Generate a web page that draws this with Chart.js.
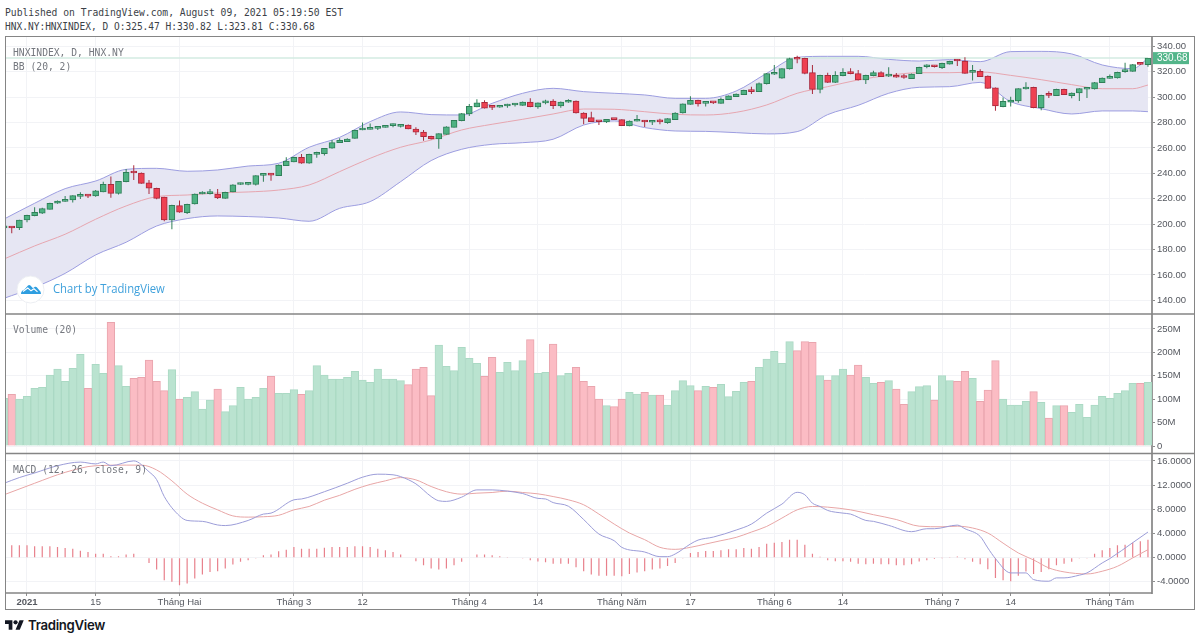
<!DOCTYPE html>
<html>
<head>
<meta charset="utf-8">
<title>HNXINDEX</title>
<script src="https://cdn.jsdelivr.net/npm/chart.js@4"></script>
<style>
  html, body { margin: 0; padding: 0; background: #fff; }
  body { position: relative; width: 1200px; height: 640px; overflow: hidden; }
  .abs { position: absolute; white-space: pre; }
  .mono { font: 10.3px/12px "DejaVu Sans Mono", monospace; transform-origin: 0 50%; transform: scaleX(.94); }
  .head { color: #3c3f47; }
  .pane { color: #75787f; }
  #frame { position: absolute; left: 5px; top: 36px; width: 1188px; height: 572px; border: 1px solid #858585; pointer-events: none; }
  #c { position: absolute; left: 5px; top: 36px; }
</style>
</head>
<body>
<canvas id="c" width="1189" height="573"></canvas>
<div id="frame"></div>

<div class="abs mono head" style="left:5px;top:6px">Published on TradingView.com, August 09, 2021 05:19:50 EST</div>
<div class="abs mono head" style="left:5px;top:20px;transform:scaleX(.925)">HNX.NY:HNXINDEX, D O:325.47 H:330.82 L:323.81 C:330.68</div>
<div class="abs mono pane" style="left:12.5px;top:46px">HNXINDEX, D, HNX.NY</div>
<div class="abs mono pane" style="left:12.5px;top:60px">BB (20, 2)</div>
<div class="abs mono pane" style="left:12.5px;top:323px">Volume (20)</div>
<div class="abs mono pane" style="left:12.5px;top:463px">MACD (12, 26, close, 9)</div>

<svg class="abs" style="left:16px;top:275px" width="29" height="29" viewBox="0 0 29 29">
  <circle cx="14.5" cy="14.5" r="13.5" fill="#fff" stroke="#eceef2"/>
  <path d="M5 19c0-2.500 1.500-3.800 3.200-4.300L12 10.500c.7-.8 1.700-.8 2.400 0l2.600 2.800 1.500-1.200c.8-.6 1.700-.5 2.300.2l2.700 3.200c.9.700 1.500 1.900 1.500 3.500z" fill="#2e9ee0"/>
  <path d="M7 16.500l4.800-3.500 3.200 2.800 3-2 3.500 3" fill="none" stroke="#fff" stroke-width="1.100"/>
</svg>
<div class="abs" style="left:53px;top:281px;font:12.4px/15px 'Open Sans',sans-serif;color:#3fa1dc;transform-origin:0 50%;transform:scaleX(.91)">Chart by TradingView</div>

<svg class="abs" style="left:5px;top:620px" width="19" height="10" viewBox="0 4 36 18">
  <path d="M14 22H7V11H0V4h14v18zM28 22h-8l7.500-18h8L28 22z" fill="#131722"/>
  <circle cx="20" cy="8" r="4" fill="#131722"/>
</svg>
<div class="abs" style="left:28px;top:616px;font:600 13.2px/18px Inter,sans-serif;color:#131722;letter-spacing:-.3px">TradingView</div>

<script>
// daily candles, one entry per trading session
const opens = [197,197.7,197.2,203.2,206.6,208.5,211.6,216.4,217.9,219,
  221.8,222.6,222.1,225.3,231.3,224.2,233.4,241,240.2,232.4,
  228.2,221.3,203.2,214.5,209,215.8,223.7,224,223.7,220.3,
  225.3,231.2,231.3,231.3,238.4,239.2,238.1,246,248.9,252.6,
  247.9,254.9,255.5,259.7,264.1,264.9,267.5,274.1,274.6,275.4,
  276.2,277.5,277,278,274.9,272.5,269.1,267,270.7,276.2,
  281.4,286.7,292.2,295.9,292.5,292,293,293.8,293.5,296.1,
  292.2,295.4,296.9,293,295.9,296.9,287.5,283.8,281.1,280.4,
  282.7,282.2,277.2,281,281.7,280.2,281,279.9,282.2,287.5,
  294.3,297.5,295.1,296,295.1,298,300.3,301.9,305.2,304.3,
  310.6,318,314.8,322.1,330.4,330.5,319.2,306.1,317.1,311.6,
  316.9,319.2,318.5,313.5,316.9,319.2,316.5,317.1,316,314.5,
  318.5,323.9,324.5,323.2,326,329,328.4,319.5,320.3,316.6,
  307.2,292.5,295.9,297,306.4,307.7,291.7,302,301.2,306.1,
  301.2,303.2,306.2,306.4,311.4,314.7,315,320,320.3,326.5,325.47];
const highs = [197.5,197.9,203.4,207.3,213.2,212.8,216.8,218.5,222.1,222.8,
  225,223.2,226.8,233.4,237.4,234,243.4,246.3,240.6,234.7,
  228.6,221.6,215.2,218.5,216,224,225.8,227.6,227.6,225.4,
  231.4,232.6,232.9,238.5,239.3,240.2,246.9,252.6,253,255.2,
  255.3,257,260,266.2,267.5,267.5,274.2,279.9,279.3,277,
  277.4,279.3,278.8,278.4,276.2,274,269.5,271.6,277,282,
  287.4,294.6,298.2,297.5,293.3,293,294.8,295.3,296.5,299,
  295.8,298,298.2,296.5,298.2,297.3,288,288.5,281.4,282.8,
  283,282.6,281.6,285.9,282,282,283,283.4,288,295,
  300.6,298,296,296.6,299.6,301.3,302.8,305.8,308.2,311.5,
  319,325.3,322.8,331,332.6,331,325.3,317.5,319.2,320.3,
  322.7,322.7,321.3,317.5,320.8,320.3,323.4,319,318.2,318.6,
  323.8,325.8,325,327,328.6,329.7,331.3,325.3,321.9,317,
  307.6,299.6,300.3,307,311.6,308.1,301.8,304.5,306.5,306.5,
  303.6,307,307,311.8,315.4,317.7,319.9,327.1,326,327.6,330.82];
const lows = [196,192.7,195.4,201.4,206.2,208,211.4,216,217.6,216.9,
  219.8,220.6,221.6,225,220.8,223.2,233,234.7,231.8,223.7,
  219.5,202.2,195.9,209,207.9,215.5,223.5,223.2,219.8,220,
  225,231,230.5,230.3,233.4,234.2,237.8,245.7,248.6,247.6,
  247.6,252.3,254.1,259.4,263.8,264.6,267.2,273.8,274.4,274.1,
  276,276.2,276,274.6,270.2,265.7,266.7,259.4,270.4,276,
  281,285.1,291.9,291,289.8,291.6,291.6,292.5,293.2,292,
  290.9,294.3,290.6,291.7,295.6,287,278.6,280.4,278,279.6,
  282,277.2,277,280.8,276.5,278,278.6,279,282,287,
  294,292.5,292.5,294.5,294.8,297.7,300,301.6,302.4,304,
  310,317.4,314.5,321.8,326.6,318,302.4,303,311,311,
  316.5,317.9,313,310.3,316.5,315.8,315.8,315.3,314.5,314.2,
  318.2,322.7,323.2,322.1,325.7,324.5,318.4,313,315.8,306.5,
  289.3,292,292.5,295.6,306,291.3,289.6,299.3,301,301.6,
  299,296.9,299.3,306,311,314.5,314.7,319.2,320,325.3,323.81];
const closes = [197.4,196.9,203.2,206.9,209.3,212.2,216.4,218.2,219.5,222.4,
  222.2,222,226.1,231.3,224.2,233.7,240.8,240.2,232.1,228.2,
  220.3,203.2,214.8,209.3,215.6,223.7,224.2,224.4,220.6,225,
  231,231.8,231.9,238.1,239.1,238.5,246.5,249.7,252.6,247.9,
  254.9,256.2,259.7,264.1,266,267,273.8,274.9,275.7,276.7,
  277,278,277.4,274.9,272.3,268.8,267,271.2,276.5,281.7,
  287,292.7,295.4,291.2,291.9,292.6,294.3,294.3,296.1,292.5,
  295.4,296.4,293.3,296.1,297.2,287.5,283.3,280.7,280.6,282.5,
  282.2,277.5,281.2,281.7,280.4,280.7,280.5,283,287.5,294.6,
  297.5,294.6,295.6,295.4,298.2,300.9,302.4,305.3,304.3,310.6,
  318.5,319.4,322.4,330.3,329.8,318.7,306.1,317.1,311.6,317.1,
  319.5,318.5,313.5,317.1,319.2,316.1,317,315.6,315.4,318.2,
  323.4,324.5,323.9,326.6,328.2,328.4,318.7,320.2,316.1,306.9,
  293,296.7,297.7,306.6,307.7,291.7,301.4,301.4,306.1,301.9,
  303.2,306.6,306.8,311.4,315,315.2,319.5,320.6,325.5,325.8,330.68];

// Bollinger bands, read every fourth session
const bandIdx = [0,4,8,12,16,20,24,28,32,36,40,44,48,52,56,60,64,68,72,76,80,84,88,92,96,100,
  104,108,112,116,120,124,128,132,136,140,144,148,150];
const bbUpper = [204,216.4,227.9,233.9,243.1,243.9,241.6,242.6,245.7,247.9,260.5,268.3,280.7,288.3,286.2,285.9,295.1,303,306.9,304.3,303,301.7,299,299,304.8,318.7,
  331.3,332.1,332.1,329.7,328.4,329.5,327.9,335.8,336,334,325.3,322.4,330.5];
const bbBasis = [172.5,182.8,192,203.8,214.3,221.6,222.9,224.5,225.3,226.8,230.8,241.3,251.8,260.5,266.2,274.1,278.6,282.5,286.7,290.6,290.4,288.5,286.4,285.9,288,293.8,
  303,308.2,313.5,317.1,319.2,319.2,319.8,317.1,313.7,309.8,306.6,306.6,309.5];
const bbLower = [141.6,150.2,161.2,175.7,185.7,198.5,204.3,206.4,205.9,204.8,202.2,212.4,217.7,233.4,250,258.9,262.8,264.1,266.8,278,281.2,276,273.3,273,272,271,
  272.8,286.2,293.5,303,307.7,308.2,311.6,296.4,290.9,286.7,289.1,289.1,288.5];

// volume in millions
const volumes = [101.9,110.4,100.4,106,123.2,125.4,151.7,164.5,138.2,166,
  195.9,123.2,174.5,155.3,264.3,171.7,127.5,144.6,146.7,183.8,
  138.2,118.2,163.1,100.4,104,116.1,79.1,98.3,121.8,73.4,
  86.2,125.4,100.4,104,123.2,148.9,112.5,112.5,120.4,110.4,
  118.2,171.7,151.7,143.2,143.2,146.7,159.6,141,136,164.5,
  143.2,143.2,139.6,131,164.5,168,107.6,215.8,170.2,161,
  210.8,187.3,176.6,148.9,189.5,157.4,178.8,161,182.3,227.2,
  155.3,157.4,218,150.3,155.3,168,138.2,127.5,100.4,86.2,
  84,100.4,114.7,111,114.7,109,109,87.6,118.2,139.6,
  128.9,118.2,127.5,125.4,131.8,105.4,116.8,136,138.2,168,
  185.9,202.3,176.6,223,203.7,223,221.5,150.3,141,150.3,
  164.5,151.7,173.1,146.7,133.9,136,139.6,121.8,89,116.1,
  126.8,128.9,98.3,150.3,139.6,138.2,159.6,144.6,95.4,119.7,
  182.3,100.4,87.6,87.6,95.4,116.1,93.3,59.8,86.2,86.2,
  71.9,89,61.3,87.6,106.1,101.9,112.5,118.2,133.9,133.9,136];

// MACD pane
const macdHist = [2,2.03,2.03,2.03,1.87,1.87,1.87,1.76,1.6,1.48,
  1.15,.93,.66,.66,.22,.22,.5,.66,0,-.88,
  -1.98,-3.74,-4,-4.56,-4.29,-3.46,-2.8,-2.36,-2.25,-1.81,
  -1.15,-.7,-.44,-.05,.38,.5,1.04,1.32,1.76,1.48,
  1.48,1.48,1.65,1.76,1.76,1.76,1.87,1.87,1.76,1.48,
  1.2,.93,.5,0,-.6,-1.26,-1.8,-1.98,-1.81,-1.26,
  -.7,0,.5,.5,.38,.22,.1,0,-.16,-.44,
  -.66,-.77,-1,-1,-1,-1.6,-2.25,-2.8,-3,-3,
  -3,-3.08,-2.7,-2.47,-2.25,-1.98,-1.8,-1.37,-.88,-.05,
  .77,.93,1.1,1.1,1.2,1.37,1.37,1.6,1.48,1.76,
  2.3,2.47,2.58,2.97,2.97,2.14,.66,.16,-.44,-.6,
  -.6,-.7,-1,-1.1,-1,-1.1,-1.1,-1.26,-1.26,-1.1,
  -.66,-.44,-.22,-.02,.1,.2,-.27,-.7,-1.1,-1.92,
  -3.35,-3.74,-3.9,-3,-2.3,-2.7,-2.36,-1.92,-1.26,-1,
  -.7,-.16,-.05,.66,1.2,1.6,2.03,2.14,2.5,2.7,2.97];
const macdIdx = [0,2,4,7,10,12,13,14,17,19,20,21,23,24,26,28,29,32,34,35,38,39,42,45,47,49,51,
  52,54,56,57,58,60,62,64,66,68,70,71,72,74,76,78,80,81,84,86,87,88,90,91,93,96,98,100,102,104,
  105,106,107,108,110,111,113,114,116,119,121,122,125,126,128,129,130,132,134,135,137,138,139,141,142,144,145,148,150];
const macdLine = [12.3,13.24,14,15.2,15.8,15.5,15.8,15.2,16,14.2,12.9,10.1,6.9,6.15,6,5.4,5.3,6.15,7.2,7.36,9.56,9.7,10.9,12.3,13.3,13.8,13.7,
  13.4,12.2,10.1,9.4,9.3,10,11.2,11.2,11,10.6,9.8,9.7,9.1,8.5,6.3,3.9,2.8,1.7,.93,.16,.16,.6,2.25,2.9,3.4,4.56,5.55,7.36,8.85,10.8,
  10.4,9,8.46,7.8,7.36,7.2,6.15,6,5.33,4.29,4.78,4.78,5.38,4.78,3.5,1.6,-.16,-2.53,-2.53,-3.63,-3.9,-3.35,-3.35,-2.9,-2.53,-.88,-.16,2.47,4.23];
const signalIdx = [0,4,8,12,16,18,20,22,24,26,28,30,32,34,36,38,40,42,44,46,48,50,
  52,54,56,58,60,62,64,66,68,70,72,74,76,78,80,82,84,86,88,90,92,94,96,98,100,102,104,
  106,108,111,114,117,120,123,125,127,129,131,133,135,137,139,142,144,146,148,150];
const signalLine = [10.4,12.3,14.1,15.2,15.3,15.3,14.5,12.7,10.5,9,7.9,6.9,6.7,6.76,7,7.9,8.46,9.5,10.3,11.3,12.1,12.7,
  13.24,12.86,11.76,10.9,10.5,10.66,10.77,11,10.77,10.55,10.1,9.56,8.74,7.2,5.55,4.07,2.97,1.7,1.37,1.7,2.25,2.8,3.35,4.23,5.16,6.54,7.9,
  8.46,8.35,7.9,7.1,6.3,5.2,5.1,5.2,4.9,4.07,2.4,.77,-.38,-1.7,-2.36,-2.7,-2.25,-1.43,-.05,1.32];

// axis ticks
const timeTickIdx = [3,12,23,38,47,61,70,81,90,101,110,123,132,145];
const timeTickLabels = ['2021','15','Tháng Hai','Tháng 3','12','Tháng 4','14','Tháng Năm','17','Tháng 6','14','Tháng 7','14','Tháng Tám'];
const priceTicks = [140,160,180,200,220,240,260,280,300,320,340];
const volumeTicks = [0,50,100,150,200,250];
const macdTicks = [-4,0,4,8,12,16];

const GREEN = '#4fb283', GREEN_EDGE = '#2f7f58';
const RED = '#ee4152', RED_EDGE = '#a92a3d';
const isDown = i => closes[i] < opens[i];
const at = (xs, ys) => xs.map((x, i) => ({ x, y: ys[i] }));
const bars = fn => opens.map((_, i) => ({ x: i, y: fn(i) }));
const lastClose = closes[closes.length - 1];

const line = (data, color, axis, order, extra) => Object.assign({
  type: 'line', data, yAxisID: axis, order, borderColor: color, borderWidth: 1,
  pointRadius: 0, cubicInterpolationMode: 'monotone', fill: false,
}, extra);

const axisFont = { family: '"Liberation Sans", Arial, sans-serif', size: 9.5 };
const yAxis = (weight, min, max, ticks, fmt) => ({
  type: 'linear', position: 'right', stack: 'panes', stackWeight: weight, min, max,
  // first and last tick labels must not push the plot area in
  afterFit: s => { s.width = 42; s.paddingTop = 0; s.paddingBottom = 0; },
  afterBuildTicks: s => { s.ticks = ticks.map(value => ({ value })); },
  grid: { color: '#f2f3f6', tickColor: '#8d8d8d', tickLength: 3 },
  border: { display: true, color: '#979797', width: 2 },
  ticks: { color: '#55585f', font: axisFont, padding: 2, autoSkip: false, callback: fmt },
});

const panesPlugin = {
  id: 'panes',
  afterDraw(chart) {
    const { ctx, chartArea, scales } = chart;
    ctx.save();
    // separators between the three panes
    ctx.strokeStyle = '#858585';
    ctx.lineWidth = 1.5;
    [scales.yVol.top, scales.yMacd.top, scales.yMacd.bottom].forEach(y => {
      ctx.beginPath();
      ctx.moveTo(0, y);
      ctx.lineTo(y === scales.yMacd.bottom ? chartArea.right : chart.width, y);
      ctx.stroke();
    });
    // last price tag
    const y = scales.y.getPixelForValue(lastClose);
    ctx.fillStyle = '#53b58a';
    ctx.fillRect(chartArea.right + 1, y - 6, 36, 12);
    ctx.fillStyle = '#fff';
    ctx.font = '10px "Liberation Sans", Arial, sans-serif';
    ctx.textBaseline = 'middle';
    ctx.fillText(lastClose.toFixed(2), chartArea.right + 5, y + .5);
    ctx.restore();
  },
};

new Chart(document.getElementById('c'), {
  type: 'bar',
  plugins: [panesPlugin],
  data: {
    datasets: [
      // bands
      line(at(bandIdx, bbUpper), '#9c9de0', 'y', 12, { fill: { target: '+1' }, backgroundColor: '#e6e6f3' }),
      line(at(bandIdx, bbLower), '#9c9de0', 'y', 11),
      line(at(bandIdx, bbBasis), '#e6a6b0', 'y', 10),
      line(at([0, opens.length - 1], [lastClose, lastClose]), '#d3ebe2', 'y', 9, { borderWidth: 1.5, cubicInterpolationMode: 'default' }),
      // candles
      {
        data: bars(i => [lows[i], highs[i]]), yAxisID: 'y', order: 8, grouped: false, barThickness: 1, inflateAmount: 0,
        backgroundColor: opens.map((_, i) => isDown(i) ? RED_EDGE : GREEN_EDGE),
      },
      {
        data: bars(i => [opens[i], closes[i]]), yAxisID: 'y', order: 7, grouped: false, barThickness: 6, minBarLength: 2,
        backgroundColor: opens.map((_, i) => isDown(i) ? RED : GREEN),
        borderColor: opens.map((_, i) => isDown(i) ? RED_EDGE : GREEN_EDGE),
        borderWidth: 1, borderSkipped: false,
      },
      // volume
      {
        data: bars(i => volumes[i]), yAxisID: 'yVol', order: 6, grouped: false, barThickness: 7.63,
        backgroundColor: opens.map((_, i) => isDown(i) ? '#fbbcc4' : '#bae3d0'),
        borderColor: opens.map((_, i) => isDown(i) ? '#e9a5ae' : '#abd9c4'),
        borderWidth: { left: 1, right: 1, top: 1 }, borderSkipped: 'bottom',
      },
      // macd
      {
        data: bars(i => macdHist[i]), yAxisID: 'yMacd', order: 5, grouped: false, barThickness: 1.2, inflateAmount: 0,
        backgroundColor: '#e8818c',
      },
      line(at(signalIdx, signalLine), '#e8a6a6', 'yMacd', 4),
      line(at(macdIdx, macdLine), '#9c9dd8', 'yMacd', 3),
    ],
  },
  options: {
    responsive: false,
    animation: false,
    layout: { autoPadding: false, padding: 0 },
    plugins: { legend: { display: false }, tooltip: { enabled: false } },
    scales: {
      x: {
        type: 'linear', min: 0.115, max: 150.53, offset: false,
        afterFit: s => { s.height = 16; s.paddingLeft = 0; s.paddingRight = 0; },
        afterBuildTicks: s => { s.ticks = timeTickIdx.map(value => ({ value })); },
        grid: { offset: false, color: '#f2f3f6', tickColor: '#8d8d8d', tickLength: 3 },
        border: { display: false },
        ticks: {
          autoSkip: false, maxRotation: 0, padding: 1, color: '#55585f',
          font: c => (c.index === 0 ? { ...axisFont, weight: 'bold' } : axisFont),
          callback: v => timeTickLabels[timeTickIdx.indexOf(v)],
        },
      },
      y: yAxis(278, 129.2, 348.1, priceTicks, v => v.toFixed(2)),
      yVol: yAxis(139.5, -16, 282, volumeTicks, v => (v ? v + 'M' : '0')),
      yMacd: yAxis(139.5, -5.85, 17.22, macdTicks, v => v.toFixed(4)),
    },
  },
});
</script>
</body>
</html>
